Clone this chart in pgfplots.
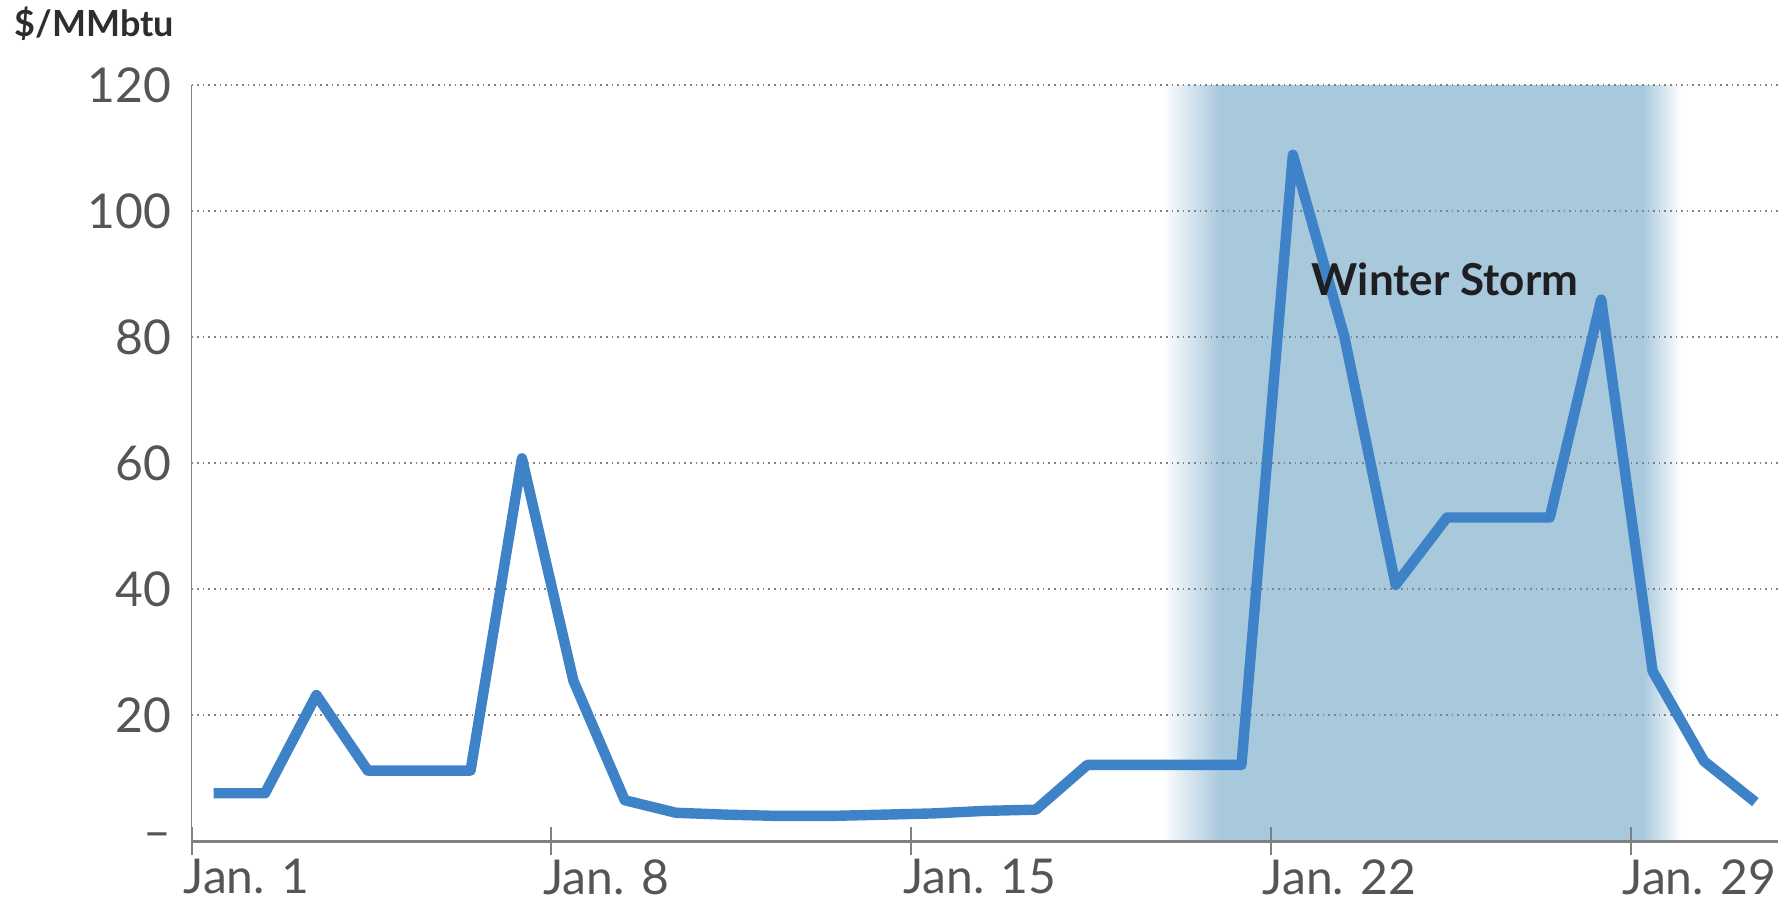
\documentclass[border=0pt]{standalone}
\usepackage{fontspec}
\setmainfont{Lato}
\usepackage{pgfplots}
\pgfplotsset{compat=1.18}
\definecolor{lineblue}{RGB}{62,130,200}
\definecolor{bandblue}{RGB}{168,200,220}
\definecolor{gridgray}{RGB}{130,130,130}
\definecolor{labelgray}{RGB}{85,85,85}

\begin{document}
\begin{tikzpicture}
\begin{axis}[
    set layers,
    scale only axis,
    width=396.6pt, height=188.9pt,
    xmin=-0.43, xmax=30.44,
    ymin=0, ymax=120,
    clip=false,
    axis x line=bottom, axis y line=left,
    axis line style={-},
    x axis line style={draw=gray, line width=0.8pt},
    y axis line style={draw=gray, line width=0.4pt},
    xtick={-0.43,6.57,13.57,20.57,27.57},
    xticklabels={Jan. 1, Jan. 8, Jan. 15, Jan. 22, Jan. 29},
    ytick={0,20,...,120},
    yticklabels={--,20,40,60,80,100,120},
    ymajorgrids,
    grid style={gridgray, densely dotted, line width=0.5pt},
    tick align=center,
    major tick length=7pt,
    xtick style={draw=gray, line width=0.5pt},
    ytick style={draw=none},
    /pgf/number format/assume math mode=true,
    ticklabel style={font=\fontsize{12}{14}\selectfont, text=labelgray},
    xticklabel style={anchor=north west, xshift=-5.5pt, yshift=2.5pt},
    yticklabel style={xshift=2pt},
]
\begin{pgfonlayer}{axis background}
  \shade[left color=white, right color=bandblue] (axis cs:18.45,0) rectangle (axis cs:19.6,120);
  \fill[bandblue] (axis cs:19.59,0) rectangle (axis cs:27.81,120);
  \shade[left color=bandblue, right color=white] (axis cs:27.8,0) rectangle (axis cs:28.56,120);
\end{pgfonlayer}

\addplot[lineblue, line width=2.6pt, line join=round, mark=none] coordinates {
  (0,7.6) (1,7.6) (2,23.2) (3,11.2) (4,11.2) (5,11.2) (6,60.8) (7,25.5)
  (8,6.5) (9,4.5) (10,4.2) (11,4.0) (12,4.0) (13,4.2) (14,4.4) (15,4.8)
  (16,5.0) (17,12.1) (18,12.1) (19,12.1) (20,12.1) (21,109.0) (22,80.2)
  (23,40.7) (24,51.4) (25,51.4) (26,51.4) (27,86.0) (28,27.0) (29,12.7) (30,6.2)
};

\node[font=\bfseries\fontsize{11}{13}\selectfont, text={rgb,255:red,30;green,30;blue,35}]
  at (axis cs:23.96,89.2) {Winter Storm};
\node[anchor=west, font=\bfseries\fontsize{9}{11}\selectfont, text={rgb,255:red,45;green,45;blue,45}, inner sep=0pt]
  at ([xshift=-44.4pt, yshift=15.4pt]rel axis cs:0,1) {\$/MMbtu};
\end{axis}
\pgfresetboundingbox
\path ([xshift=-47.875pt,yshift=-15.75pt]current axis.south west)
  rectangle ([xshift=2.25pt,yshift=21.375pt]current axis.north east);
\end{tikzpicture}
\end{document}
